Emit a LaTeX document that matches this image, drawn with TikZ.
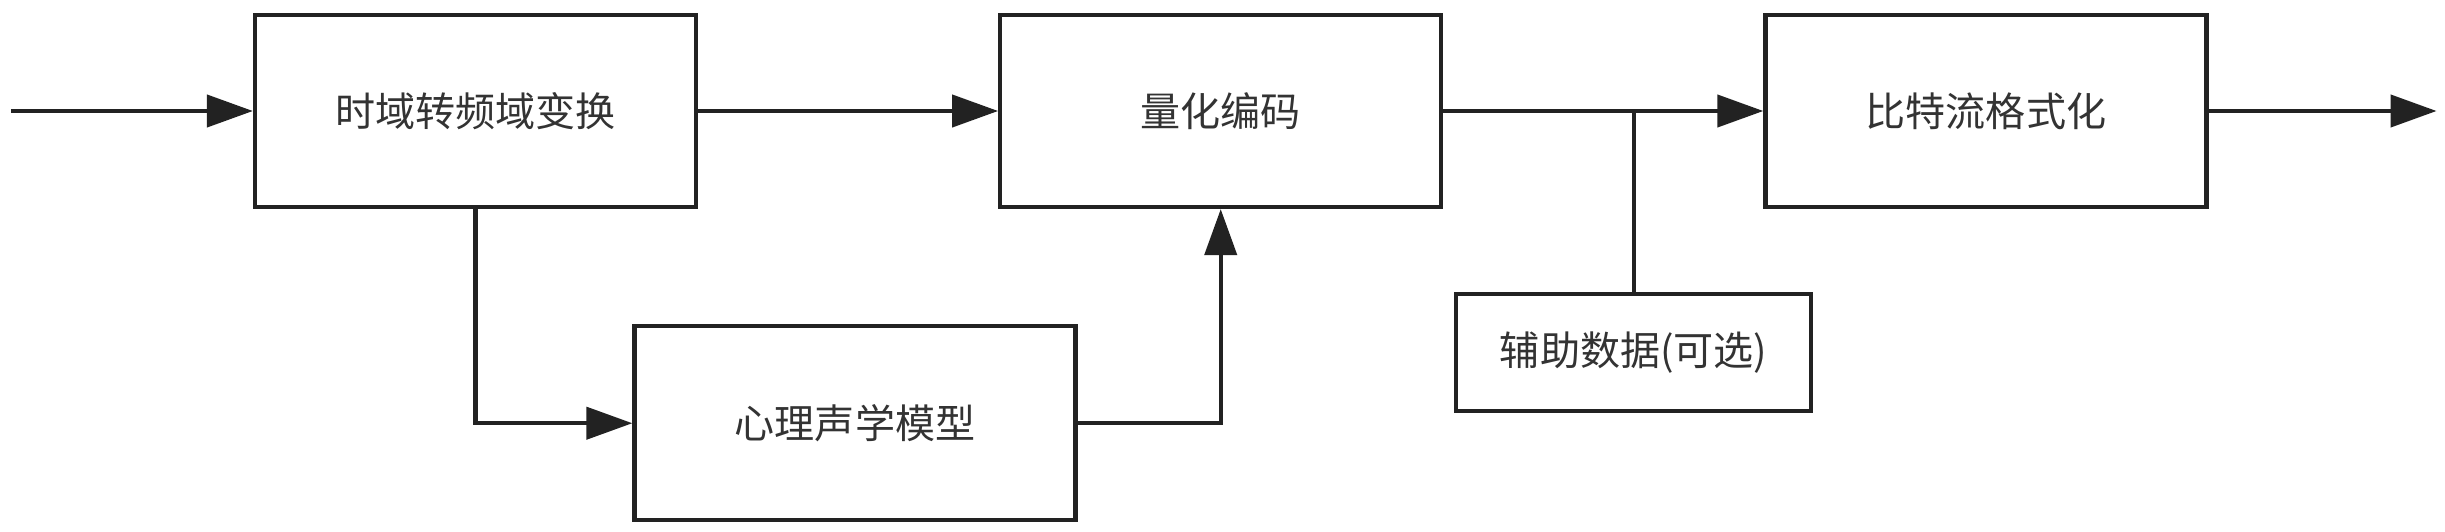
\documentclass[tikz,border=0pt]{standalone}
\usepackage{fontspec}
\setmainfont{Noto Sans CJK SC}
\usepackage{tikz}
\usetikzlibrary{positioning,arrows.meta}
\definecolor{ink}{HTML}{222222}
\definecolor{txt}{HTML}{333333}
\tikzset{
  block/.style={draw=ink, line width=1.2pt, minimum width=4.41cm, minimum height=1.92cm,
    inner sep=0pt, text=txt, font=\fontsize{11.4pt}{13pt}\selectfont},
  side/.style={block, minimum width=3.55cm, minimum height=1.17cm},
  flow/.style={draw=ink, line width=1.2pt, -{Triangle[length=0.46cm,width=0.32cm]}},
  wire/.style={draw=ink, line width=1.2pt}
}

\begin{document}
\begin{tikzpicture}
      \useasboundingbox (0,0) rectangle (24.45,-5.31);
      % Define nodes
      \node[block] (t2f) at (4.755,-1.11) {时域转频域变换};
      \node[block, right=3.0cm of t2f] (quant) {量化编码};
      \node[block, right=3.2cm of quant] (fmt) {比特流格式化};
      \node[block, minimum height=1.94cm, below=1.15cm of t2f, xshift=3.795cm] (psy) {心理声学模型};
      \node[side, below=0.83cm of quant, xshift=4.13cm] (aux) {辅助数据(可选)};
      \coordinate[left=2.42cm of t2f.west] (in);
      \coordinate[right=2.28cm of fmt.east] (out);
      \coordinate (j) at (aux.north |- quant.east);
      % Connect nodes
      \draw[flow] (in) -- (t2f);
      \draw[flow] (t2f) -- (quant);
      \draw[flow] (quant) -- (fmt);
      \draw[flow] (fmt) -- (out);
      \draw[flow] (t2f.south) |- (psy.west);
      \draw[flow] (psy.east) -| (quant.south);
      \draw[wire] (aux.north) -- (j);
    \end{tikzpicture}
\end{document}
